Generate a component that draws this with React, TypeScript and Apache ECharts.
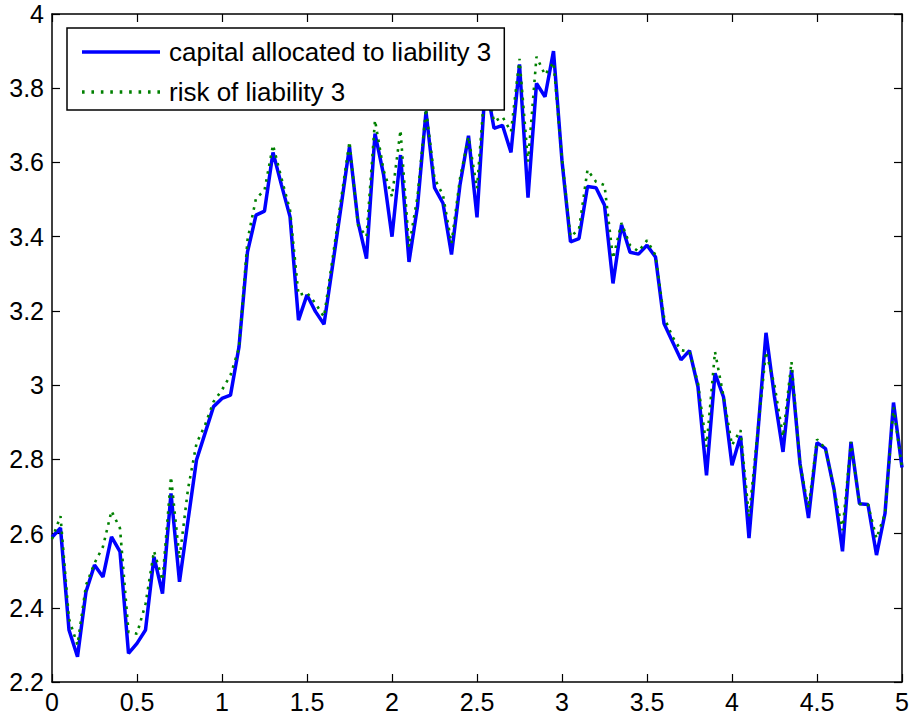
import React, { useEffect, useRef } from "react";
import * as echarts from "echarts";

const xValues = [
  0, 0.05, 0.1, 0.15, 0.2, 0.25, 0.3, 0.35, 0.4, 0.45,
  0.5, 0.55, 0.6, 0.65, 0.7, 0.75, 0.8, 0.85, 0.9, 0.95,
  1, 1.05, 1.1, 1.15, 1.2, 1.25, 1.3, 1.35, 1.4, 1.45,
  1.5, 1.55, 1.6, 1.65, 1.7, 1.75, 1.8, 1.85, 1.9, 1.95,
  2, 2.05, 2.1, 2.15, 2.2, 2.25, 2.3, 2.35, 2.4, 2.45,
  2.5, 2.55, 2.6, 2.65, 2.7, 2.75, 2.8, 2.85, 2.9, 2.95,
  3, 3.05, 3.1, 3.15, 3.2, 3.25, 3.3, 3.35, 3.4, 3.45,
  3.5, 3.55, 3.6, 3.65, 3.7, 3.75, 3.8, 3.85, 3.9, 3.95,
  4, 4.05, 4.1, 4.15, 4.2, 4.25, 4.3, 4.35, 4.4, 4.45,
  4.5, 4.55, 4.6, 4.65, 4.7, 4.75, 4.8, 4.85, 4.9, 4.95,
  5,
];

const capitalValues = [
  2.59, 2.615, 2.34, 2.268, 2.443, 2.515, 2.483, 2.591, 2.551, 2.277,
  2.304, 2.34, 2.537, 2.438, 2.708, 2.47, 2.635, 2.798, 2.87, 2.942,
  2.964, 2.973, 3.103, 3.359, 3.458, 3.469, 3.627, 3.539, 3.454, 3.175,
  3.243, 3.198, 3.164, 3.32, 3.48, 3.642, 3.44, 3.341, 3.678, 3.568,
  3.4, 3.62, 3.332, 3.481, 3.737, 3.532, 3.49, 3.352, 3.54, 3.672,
  3.452, 3.82, 3.692, 3.7, 3.627, 3.864, 3.505, 3.813, 3.777, 3.9,
  3.604, 3.386, 3.395, 3.535, 3.532, 3.485, 3.274, 3.432, 3.358, 3.353,
  3.377, 3.345, 3.166, 3.117, 3.068, 3.093, 2.995, 2.757, 3.032, 2.968,
  2.784, 2.863, 2.588, 2.86, 3.141, 2.968, 2.82, 3.04, 2.789, 2.642,
  2.845, 2.829, 2.72, 2.552, 2.847, 2.68, 2.678, 2.542, 2.654, 2.953,
  2.778,
];

const riskValues = [
  2.585, 2.647, 2.37, 2.3, 2.461, 2.52, 2.565, 2.661, 2.614, 2.335,
  2.33, 2.41, 2.553, 2.474, 2.753, 2.533, 2.72, 2.843, 2.892, 2.955,
  2.987, 3.027, 3.1, 3.391, 3.503, 3.525, 3.647, 3.557, 3.472, 3.243,
  3.249, 3.22, 3.184, 3.34, 3.5, 3.656, 3.431, 3.4, 3.714, 3.58,
  3.508, 3.687, 3.373, 3.508, 3.745, 3.557, 3.512, 3.382, 3.557, 3.669,
  3.53, 3.83, 3.71, 3.723, 3.683, 3.879, 3.602, 3.885, 3.836, 3.87,
  3.61, 3.4, 3.42, 3.58, 3.548, 3.539, 3.341, 3.437, 3.377, 3.36,
  3.39, 3.35, 3.184, 3.13, 3.094, 3.09, 3.005, 2.834, 3.09, 2.97,
  2.838, 2.879, 2.645, 2.87, 3.09, 3.0, 2.861, 3.063, 2.789, 2.668,
  2.854, 2.829, 2.72, 2.609, 2.847, 2.68, 2.678, 2.587, 2.654, 2.94,
  2.778,
];

const seriesNames = ["capital allocated to liability 3", "risk of liability 3"];

const FONT = "'Liberation Sans', Arial, sans-serif";
const FONT_SIZE = 25;

// legend glyphs: a solid stroke and a row of dots, both 78 units wide
const SOLID_ICON = "path://M0,0h78v3.5h-78z";
const DOT_ICON =
  "path://" +
  [0, 9.425, 18.85, 28.275, 37.7, 47.125, 56.55, 65.975, 75.4]
    .map((p) => `M${p},0h2.6v3.5h-2.6z`)
    .join(" ");

export default function App() {
  const ref = useRef<HTMLDivElement>(null);
  useEffect(() => {
    if (!ref.current) return;
    const chart = echarts.init(ref.current, null, { renderer: "svg" });
    const pair = (ys: number[]) => xValues.map((x, i) => [x, ys[i]]);
    const axisLine = { show: true, onZero: false, lineStyle: { color: "#000", width: 1.5 } };
    const tick = { show: true, inside: true, length: 8, lineStyle: { color: "#000", width: 1.2 } };
    chart.setOption({
      animation: false,
      backgroundColor: "#fff",
      grid: { left: 52, right: 11, top: 14, bottom: 40, containLabel: false },
      xAxis: [
        {
          type: "value", min: 0, max: 5, interval: 0.5, position: "bottom",
          axisLine, axisTick: tick, splitLine: { show: false },
          axisLabel: { color: "#000", fontSize: FONT_SIZE, fontFamily: FONT, margin: 7 },
        },
        {
          type: "value", min: 0, max: 5, interval: 0.5, position: "top",
          axisLine, axisTick: tick, splitLine: { show: false },
          axisLabel: { show: false },
        },
      ],
      yAxis: [
        {
          type: "value", min: 2.2, max: 4, interval: 0.2, position: "left",
          axisLine, axisTick: tick, splitLine: { show: false },
          axisLabel: { color: "#000", fontSize: FONT_SIZE, fontFamily: FONT, margin: 8 },
        },
        {
          type: "value", min: 2.2, max: 4, interval: 0.2, position: "right",
          axisLine, axisTick: tick, splitLine: { show: false },
          axisLabel: { show: false },
        },
      ],
      legend: {
        orient: "vertical",
        left: 67,
        top: 28,
        data: [
          { name: seriesNames[0], icon: SOLID_ICON, itemStyle: { color: "#0000ff" } },
          { name: seriesNames[1], icon: DOT_ICON, itemStyle: { color: "#008000" } },
        ],
        itemWidth: 78,
        itemHeight: 3.5,
        itemGap: 12,
        symbolKeepAspect: false,
        padding: [10, 13, 4, 15],
        backgroundColor: "#fff",
        borderColor: "#000",
        borderWidth: 1.5,
        borderRadius: 0,
        textStyle: {
          color: "#000", fontSize: 26, fontFamily: FONT, lineHeight: 28,
          padding: [0, 0, 0, 4],
        },
      },
      series: [
        {
          name: seriesNames[0],
          type: "line",
          data: pair(capitalValues),
          showSymbol: false,
          symbol: "none",
          lineStyle: { color: "#0000ff", width: 3.5 },
          itemStyle: { color: "#0000ff" },
          z: 2,
        },
        {
          name: seriesNames[1],
          type: "line",
          data: pair(riskValues),
          showSymbol: false,
          symbol: "none",
          lineStyle: { color: "#008000", width: 2.6, type: [2.6, 5.4] },
          itemStyle: { color: "#008000" },
          z: 3,
        },
      ],
    });
    return () => chart.dispose();
  }, []);
  return (
    <div
      ref={ref}
      style={{ position: "fixed", left: 0, top: 0, width: 913, height: 722, background: "#fff" }}
    />
  );
}
